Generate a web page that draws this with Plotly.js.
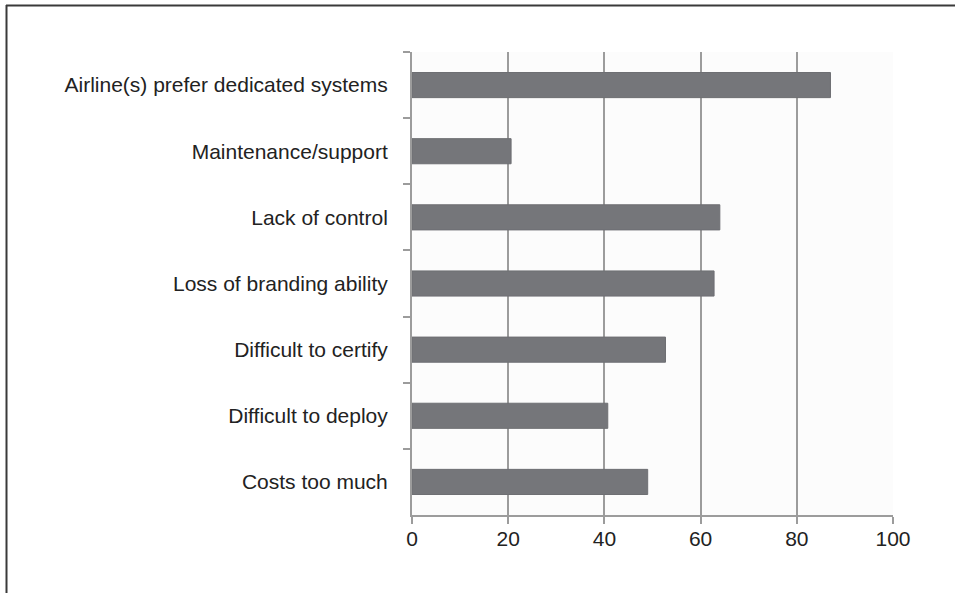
<!DOCTYPE html>
<html>
<head>
<meta charset="utf-8">
<script src="https://cdn.plot.ly/plotly-3.0.1.min.js"></script>
<style>
html,body{margin:0;padding:0;background:#fff;}
#chart{width:955px;height:593px;}
</style>
</head>
<body>
<div id="chart"></div>
<script>
const categories = [
  "Airline(s) prefer dedicated systems",
  "Maintenance/support",
  "Lack of control",
  "Loss of branding ability",
  "Difficult to certify",
  "Difficult to deploy",
  "Costs too much"
];
const values = [87, 20.6, 64, 62.8, 52.7, 40.7, 49];
const xTicks = [0, 20, 40, 60, 80, 100];

const W = 955, H = 593;
const m = {l: 412, r: 62, t: 52, b: 78};
const pw = W - m.l - m.r, ph = H - m.t - m.b;
const px = v => (v - m.l) / pw;
const py = v => 1 - (v - m.t) / ph;

const trace = {
  type: 'bar',
  orientation: 'h',
  x: values,
  y: categories,
  marker: {color: '#75767a', line: {color: '#6e6f73', width: 1}},
  hoverinfo: 'x+y'
};

const layout = {
  width: W, height: H,
  margin: m,
  paper_bgcolor: '#ffffff',
  plot_bgcolor: '#fcfcfc',
  showlegend: false,
  bargap: 0.62,
  font: {family: '"Liberation Sans", Arial, sans-serif', size: 21, color: '#222'},
  xaxis: {
    range: [0, 100],
    tickvals: xTicks,
    ticktext: xTicks.map(String),
    showgrid: true, gridcolor: '#9c9c9c', gridwidth: 2,
    zeroline: false,
    showline: true, linecolor: '#9c9c9c', linewidth: 2,
    ticks: 'outside', ticklen: 7, tickcolor: '#9c9c9c', tickwidth: 2,
    tickfont: {size: 21, color: '#222'},
    ticklabelstandoff: -3,
    fixedrange: true
  },
  yaxis: {
    type: 'category',
    categoryorder: 'array',
    categoryarray: categories,
    autorange: 'reversed',
    showgrid: false,
    zeroline: false,
    showline: true, linecolor: '#9c9c9c', linewidth: 2,
    ticks: 'outside', tickson: 'boundaries', ticklen: 7, tickcolor: '#9c9c9c', tickwidth: 2,
    tickfont: {size: 21, color: '#222'},
    ticklabelstandoff: 18,
    fixedrange: true
  },
  shapes: [
    {type: 'line', xref: 'paper', yref: 'paper', x0: px(6), x1: px(956), y0: py(5.5), y1: py(5.5), line: {color: '#3a3a3a', width: 2}},
    {type: 'line', xref: 'paper', yref: 'paper', x0: px(6.5), x1: px(6.5), y0: py(5), y1: py(594), line: {color: '#3a3a3a', width: 2}}
  ]
};

Plotly.newPlot('chart', [trace], layout, {displayModeBar: false, staticPlot: true});
</script>
</body>
</html>
